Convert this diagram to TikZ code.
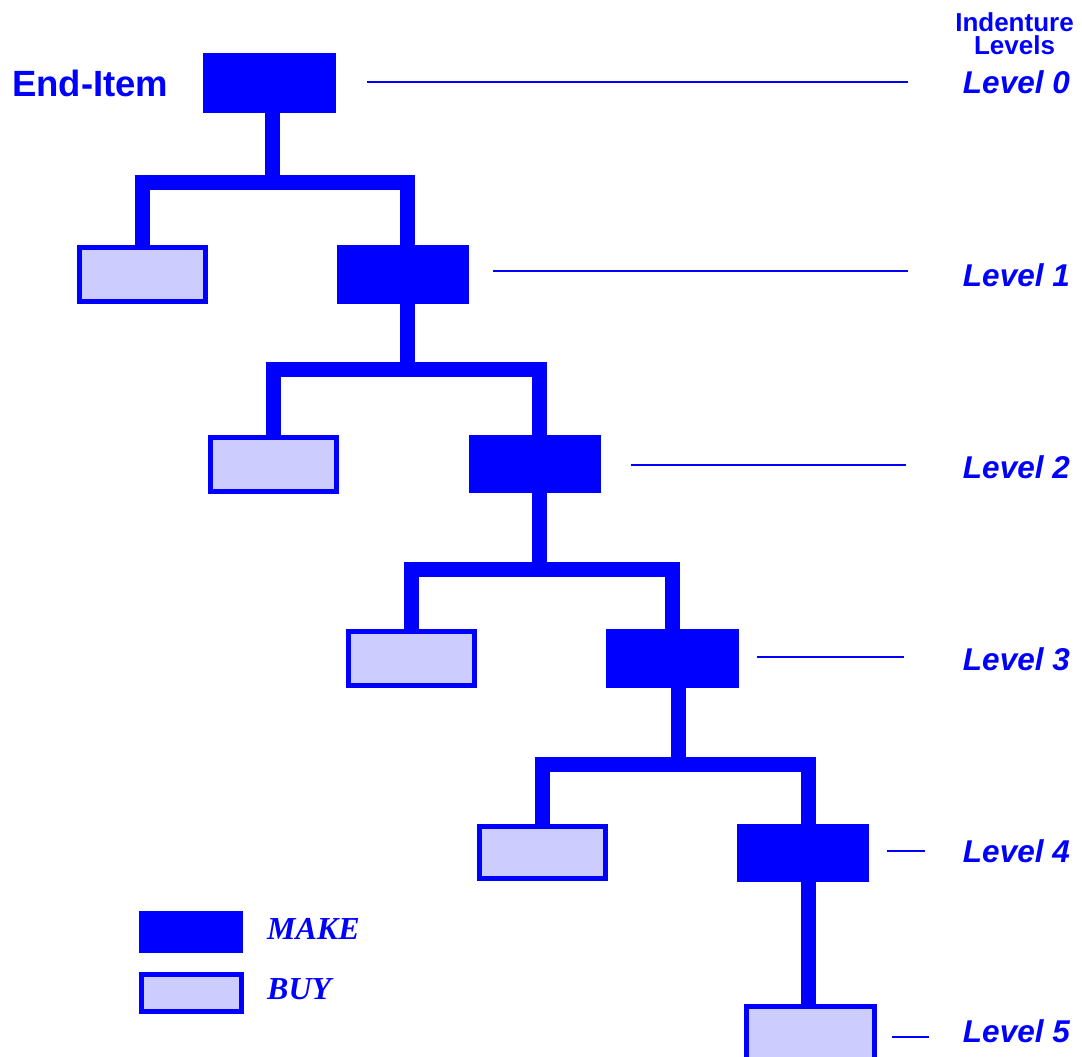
\documentclass[tikz,border=0pt]{standalone}
\usepackage{fontspec}
\newfontfamily\hv{Liberation Sans}
\newfontfamily\tm{Liberation Serif}
\definecolor{bom}{HTML}{0000FF}
\definecolor{buyfill}{HTML}{CCCCFF}
\begin{document}
\begin{tikzpicture}[x=1pt,y=-1pt,
  make/.style={fill=bom, draw=none, inner sep=0, outer sep=0, minimum width=132, minimum height=59},
  buy/.style={fill=buyfill, draw=bom, line width=5, inner sep=0, minimum width=126, minimum height=54},
  conn/.style={draw=bom, line width=15, line join=miter, shorten <=-2pt, shorten >=-2pt},
  lvl/.style={draw=bom, line width=1.5},
  lvltext/.style={text=bom, font=\hv\bfseries\itshape\fontsize{31.5}{36}\selectfont, anchor=base east, inner sep=0},
  headtext/.style={text=bom, font=\hv\bfseries\fontsize{26}{23}\selectfont, align=center, anchor=south, inner sep=0, text depth=0pt},
  legtext/.style={text=bom, font=\tm\bfseries\itshape\fontsize{32}{36}\selectfont, anchor=base west, inner sep=0}]
\clip (0,0) rectangle (1082,1057);

% assemblies (make) and purchased parts (buy)
\node[make, minimum width=133, minimum height=60] (m0) at (269.5,83) {};
\node[buy]  (b1) at (142,274.5) {};
\node[make] (m1) at (403,274.5) {};
\node[buy]  (b2) at (273.5,464) {};
\node[make, minimum height=58] (m2) at (535,464) {};
\node[buy]  (b3) at (411,658.5) {};
\node[make, minimum width=133] (m3) at (672.5,658.5) {};
\node[buy, minimum height=52] (b4) at (542,852.5) {};
\node[make, minimum height=58] (m4) at (803,852.5) {};
\node[buy, minimum width=128] (b5) at (810.5,1033.5) {};

% branch junctions
\coordinate (j1) at (272,182);
\coordinate (j2) at (407,369.5);
\coordinate (j3) at (539,569.5);
\coordinate (j4) at (678,764.5);

% product structure connectors
\draw[conn] (j1 |- m0.south) -- (j1);
\draw[conn] (b1.north) |- (j1) -| ([xshift=4]m1.north);
\draw[conn] (j2 |- m1.south) -- (j2);
\draw[conn] (b2.north) |- (j2) -| ([xshift=4]m2.north);
\draw[conn] (j3 |- m2.south) -- (j3);
\draw[conn] (b3.north) |- (j3) -| (m3.north);
\draw[conn] (j4 |- m3.south) -- (j4);
\draw[conn] (b4.north) |- (j4) -| ([xshift=5]m4.north);
\draw[conn] ([xshift=-2.5]b5.north) -- ([xshift=-2.5]b5.north |- m4.south);

% title
\node[text=bom, font=\hv\bfseries\fontsize{36.5}{40}\selectfont, anchor=base west, inner sep=0] (title) at (12,96) {End-Item};

% indenture level column
\node[headtext] (head) at (1014.5,55) {Indenture\\Levels};

\node[lvltext] (L0) at (1070,93) {Level 0};
\node[lvltext] (L1) at (1070,286) {Level 1};
\node[lvltext] (L2) at (1070,478) {Level 2};
\node[lvltext] (L3) at (1070,670) {Level 3};
\node[lvltext] (L4) at (1070,862) {Level 4};
\node[lvltext] (L5) at (1070,1042) {Level 5};

% level guide lines
\coordinate (g0a) at (367,82);  \coordinate (g0b) at (908,82);
\coordinate (g1a) at (493,271); \coordinate (g1b) at (908,271);
\coordinate (g2a) at (631,465); \coordinate (g2b) at (906,465);
\coordinate (g3a) at (757,657); \coordinate (g3b) at (904,657);
\coordinate (g4a) at (887,851); \coordinate (g4b) at (925,851);
\coordinate (g5a) at (892,1037);\coordinate (g5b) at (929,1037);
\draw[lvl] (g0a) -- (g0b);
\draw[lvl] (g1a) -- (g1b);
\draw[lvl] (g2a) -- (g2b);
\draw[lvl] (g3a) -- (g3b);
\draw[lvl] (g4a) -- (g4b);
\draw[lvl] (g5a) -- (g5b);

% legend
\node[make, minimum width=104, minimum height=42] (lm) at (191,932) {};
\node[buy, minimum width=100, minimum height=37] (lb) at (191.5,993) {};
\node[legtext] (tm) at (267,939) {MAKE};
\node[legtext] (tb) at (267,999) {BUY};
\end{tikzpicture}
\end{document}
